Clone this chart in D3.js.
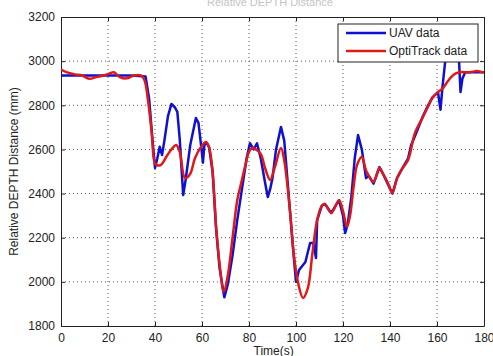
<!DOCTYPE html>
<html>
<head>
<meta charset="utf-8">
<script src="https://cdn.jsdelivr.net/npm/d3@7"></script>
<style>
  body { margin: 0; background: #fff; }
  text { font-family: "Liberation Sans", Arial, sans-serif; }
</style>
</head>
<body>
<div id="chart"></div>
<script>
// values
const xTicks = [0, 20, 40, 60, 80, 100, 120, 140, 160, 180];
const yTicks = [1800, 2000, 2200, 2400, 2600, 2800, 3000, 3200];
const seriesNames = ['UAV data', 'OptiTrack data'];

const uavTime = [0, 10, 20, 30, 36, 37.5, 38.8, 40, 41, 42, 43, 44, 45.5, 47, 48.5, 49.5, 50.5, 52, 53, 55, 57.4, 58.5, 59.8, 60.4, 61, 62, 63, 64.5, 66, 67.5, 69.5, 71, 73, 75, 77, 79, 80.4, 82, 83.4, 85, 87, 88, 89, 90, 91.5, 93.6, 95, 97.4, 99, 100, 101.3, 104, 106, 107.4, 108.5, 109, 111, 112.3, 115, 118.3, 120, 120.9, 122, 123.5, 125, 126.4, 128, 129.8, 131, 133, 135.5, 137, 139, 141, 143, 145, 147.7, 149, 150.6, 154, 156, 158, 160.4, 161.5, 162.3, 163.5, 164.5, 166, 168, 169.4, 170, 170.8, 172, 175, 180];
const uavDepth = [2935, 2935, 2935, 2935, 2930, 2830, 2660, 2516, 2560, 2612, 2575, 2640, 2750, 2806, 2790, 2770, 2650, 2393, 2460, 2620, 2742, 2720, 2600, 2540, 2620, 2630, 2610, 2500, 2240, 2060, 1930, 1990, 2120, 2280, 2420, 2560, 2628, 2600, 2628, 2560, 2440, 2384, 2420, 2470, 2600, 2702, 2640, 2326, 2120, 2000, 2054, 2090, 2176, 2176, 2108, 2280, 2345, 2353, 2312, 2370, 2300, 2221, 2260, 2380, 2560, 2665, 2600, 2470, 2480, 2445, 2520, 2490, 2445, 2400, 2470, 2510, 2560, 2620, 2660, 2750, 2795, 2835, 2860, 2780, 2880, 3000, 3100, 3120, 3100, 2996, 2860, 2920, 2950, 2950, 2950];

const optiTime = [0, 3, 6, 9, 12, 15, 18, 21, 22.5, 25, 28, 31, 34, 35.5, 37, 38.6, 39.6, 40.5, 42.5, 45, 47, 49, 50.5, 52.8, 55, 57, 59.5, 61.7, 63, 64.5, 66, 67.5, 69.3, 71, 73, 75, 76.5, 78.5, 80, 81.5, 83, 85, 87, 89, 91, 93.6, 95, 97.4, 99, 101, 103, 105, 107, 109, 111, 112.3, 115, 118.3, 120, 121.7, 123, 124.5, 126, 128, 130, 133, 135.5, 137, 139, 141, 143, 145, 147.7, 150.6, 154, 156, 158, 160.4, 162.6, 164, 166, 168, 170, 174, 177, 180];
const optiDepth = [2962, 2948, 2940, 2935, 2920, 2928, 2935, 2945, 2950, 2928, 2922, 2935, 2935, 2915, 2824, 2674, 2552, 2530, 2530, 2570, 2600, 2620, 2590, 2470, 2490, 2560, 2610, 2634, 2610, 2500, 2250, 2080, 1955, 2030, 2200, 2370, 2440, 2530, 2590, 2607, 2600, 2580, 2510, 2462, 2520, 2606, 2550, 2326, 2130, 1990, 1927, 1970, 2130, 2280, 2345, 2353, 2312, 2370, 2320, 2250, 2300, 2430, 2530, 2566, 2500, 2453, 2516, 2490, 2450, 2403, 2470, 2510, 2552, 2674, 2747, 2790, 2833, 2860, 2878, 2900, 2928, 2945, 2950, 2950, 2955, 2948];

const width = 493, height = 356;
const margin = { top: 17, right: 9, bottom: 30, left: 61 };
const innerW = width - margin.left - margin.right;
const innerH = height - margin.top - margin.bottom;

const svg = d3.select('#chart')
  .append('svg')
  .attr('width', width)
  .attr('height', height);

// faint title, mostly cut off at the top edge
svg.append('text')
  .attr('x', 270)
  .attr('y', 6)
  .attr('text-anchor', 'middle')
  .style('font-size', '11px')
  .attr('fill', '#c4c4c4')
  .text('Relative DEPTH Distance');

const g = svg.append('g')
  .attr('transform', `translate(${margin.left},${margin.top})`);

const x = d3.scaleLinear().domain([0, 180]).range([0, innerW]);
const y = d3.scaleLinear().domain([1800, 3200]).range([innerH, 0]);

// dotted grid
g.append('g')
  .selectAll('line')
  .data(xTicks.slice(1, -1))
  .enter()
  .append('line')
  .attr('x1', d => x(d)).attr('x2', d => x(d))
  .attr('y1', 0).attr('y2', innerH)
  .attr('stroke', '#555')
  .attr('stroke-width', 1)
  .attr('stroke-dasharray', '1,3');

g.append('g')
  .selectAll('line')
  .data(yTicks.slice(1, -1))
  .enter()
  .append('line')
  .attr('x1', 0).attr('x2', innerW)
  .attr('y1', d => y(d)).attr('y2', d => y(d))
  .attr('stroke', '#555')
  .attr('stroke-width', 1)
  .attr('stroke-dasharray', '1,3');

// axes with inward ticks on every side
const styleAxis = sel => {
  sel.select('.domain').attr('stroke', '#222');
  sel.selectAll('.tick line').attr('stroke', '#222');
  sel.selectAll('.tick text')
    .attr('fill', '#222')
    .style('font-size', '12px')
    .style('font-family', '"Liberation Sans", Arial, sans-serif');
};

g.append('g')
  .attr('transform', `translate(0,${innerH})`)
  .call(d3.axisBottom(x).tickValues(xTicks).tickSizeInner(-4).tickSizeOuter(0).tickPadding(7))
  .call(styleAxis);

g.append('g')
  .call(d3.axisTop(x).tickValues(xTicks).tickSizeInner(-4).tickSizeOuter(0).tickFormat(''))
  .call(styleAxis);

g.append('g')
  .call(d3.axisLeft(y).tickValues(yTicks).tickFormat(d3.format('d')).tickSizeInner(-4).tickSizeOuter(0).tickPadding(6))
  .call(styleAxis);

g.append('g')
  .attr('transform', `translate(${innerW},0)`)
  .call(d3.axisRight(y).tickValues(yTicks).tickSizeInner(-4).tickSizeOuter(0).tickFormat(''))
  .call(styleAxis);

// axis titles
svg.append('text')
  .attr('x', margin.left + x(90.5))
  .attr('y', 355)
  .attr('text-anchor', 'middle')
  .style('font-size', '12px')
  .attr('fill', '#222')
  .text('Time(s)');

svg.append('text')
  .attr('transform', 'rotate(-90)')
  .attr('x', -(margin.top + innerH / 2))
  .attr('y', 18)
  .attr('text-anchor', 'middle')
  .style('font-size', '12px')
  .attr('fill', '#222')
  .text('Relative DEPTH Distance (mm)');

// series
g.append('clipPath').attr('id', 'plot-clip')
  .append('rect').attr('width', innerW).attr('height', innerH);

const line = d3.line()
  .x(d => x(d[0]))
  .y(d => y(d[1]));

const uav = uavTime.map((t, i) => [t, uavDepth[i]]);
const opti = optiTime.map((t, i) => [t, optiDepth[i]]);

g.append('path')
  .datum(uav)
  .attr('clip-path', 'url(#plot-clip)')
  .attr('fill', 'none')
  .attr('stroke', '#1010d0')
  .attr('stroke-width', 2.5)
  .attr('stroke-linejoin', 'round')
  .attr('d', line);

g.append('path')
  .datum(opti)
  .attr('clip-path', 'url(#plot-clip)')
  .attr('fill', 'none')
  .attr('stroke', '#e01818')
  .attr('stroke-width', 2.5)
  .attr('stroke-linejoin', 'round')
  .attr('d', line.curve(d3.curveCatmullRom));

// legend
const legend = svg.append('g').attr('transform', 'translate(338,24)');
legend.append('rect')
  .attr('width', 140)
  .attr('height', 38)
  .attr('fill', '#fff')
  .attr('stroke', '#222');

const legendColors = ['#1010d0', '#e01818'];
seriesNames.forEach((name, i) => {
  const row = legend.append('g').attr('transform', `translate(0,${9 + i * 18})`);
  row.append('line')
    .attr('x1', 8).attr('x2', 48)
    .attr('stroke', legendColors[i])
    .attr('stroke-width', 2.5);
  row.append('text')
    .attr('x', 51)
    .attr('y', 4)
    .style('font-size', '12px')
    .attr('fill', '#222')
    .text(name);
});
</script>
</body>
</html>
